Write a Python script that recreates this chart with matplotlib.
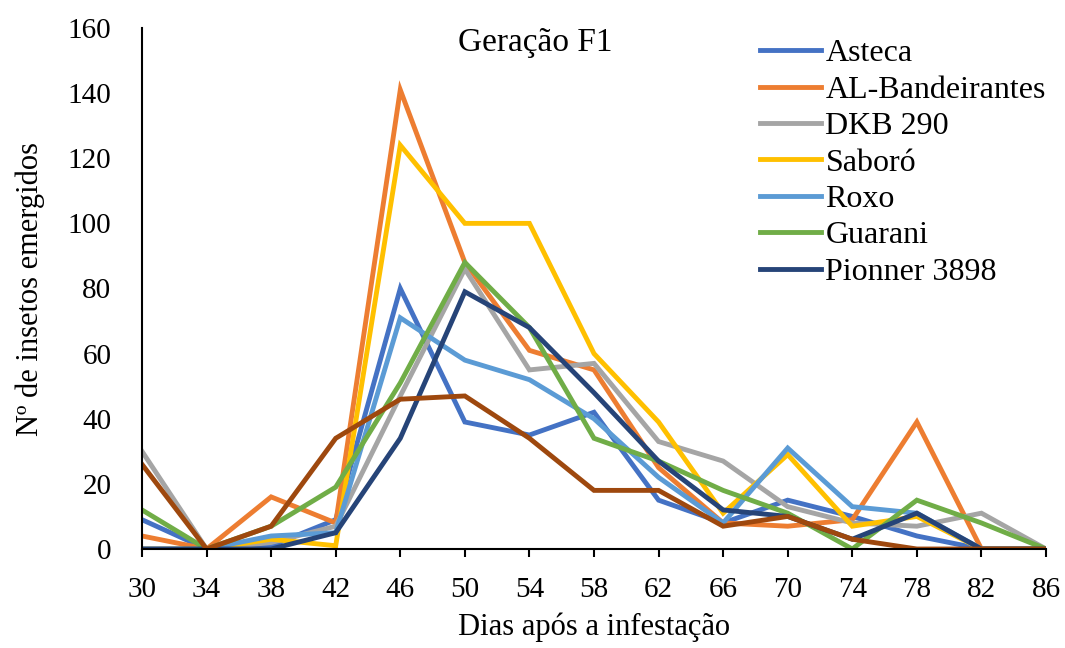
import numpy as np
import matplotlib.pyplot as plt

plt.rcParams['font.family'] = ['Liberation Serif', 'DejaVu Serif']

# days after infestation
dias = [30, 34, 38, 42, 46, 50, 54, 58, 62, 66, 70, 74, 78, 82, 86]

asteca = [9, 0, 1, 9, 80, 39, 35, 42, 15, 8, 15, 10, 4, 0, 0]
al_bandeirantes = [4, 0, 16, 8, 141, 88, 61, 55, 25, 8, 7, 9, 39, 0, 0]
dkb_290 = [30, 0, 2, 7, 47, 86, 55, 57, 33, 27, 13, 8, 7, 11, 0]
saboro = [0, 0, 3, 1, 124, 100, 100, 60, 39, 11, 29, 7, 10, 0, 0]
roxo = [0, 0, 4, 5, 71, 58, 52, 40, 22, 8, 31, 13, 11, 0, 0]
guarani = [12, 0, 7, 19, 51, 88, 68, 34, 27, 18, 11, 0, 15, 8, 0]
pionner = [0, 0, 0, 5, 34, 79, 68, 48, 27, 12, 10, 3, 11, 0, 0]
sem_nome = [26, 0, 7, 34, 46, 47, 34, 18, 18, 7, 10, 3, 0, 0, 0]

series = [
    ("Asteca", asteca, "#4472C4"),
    ("AL-Bandeirantes", al_bandeirantes, "#ED7D31"),
    ("DKB 290", dkb_290, "#A5A5A5"),
    ("Saboró", saboro, "#FFC000"),
    ("Roxo", roxo, "#5B9BD5"),
    ("Guarani", guarani, "#70AD47"),
    ("Pionner 3898", pionner, "#264478"),
]

fig = plt.figure(figsize=(10.65, 6.48), dpi=100)
ax = fig.add_axes([142 / 1065, 1 - 549 / 648, (1046 - 142) / 1065, (549 - 28) / 648])

for nome, vals, cor in series:
    ax.plot(dias, vals, color=cor, lw=3.5, label=nome, solid_joinstyle='miter')
# brown series has no legend entry in the original
ax.plot(dias, sem_nome, color="#9E480E", lw=3.5, solid_joinstyle='miter')

ax.set_xlim(30, 86)
ax.set_ylim(0, 160)
ax.set_xticks(dias)
ax.set_yticks(np.arange(0, 161, 20))
ax.tick_params(axis='x', length=6, width=1.5, pad=14, labelsize=21)
ax.tick_params(axis='y', length=0, pad=22, labelsize=21)
for s in ['top', 'right']:
    ax.spines[s].set_visible(False)
ax.spines['left'].set_linewidth(1.5)
ax.spines['bottom'].set_linewidth(1.5)

ax.set_xlabel("Dias após a infestação", fontsize=22, labelpad=7)
ax.set_ylabel("Nº de insetos emergidos", fontsize=22, labelpad=16)
ax.text(0.435, 1.0, "Geração F1", transform=ax.transAxes, fontsize=24,
        ha='center', va='top')

ax.legend(loc='upper left', bbox_to_anchor=(760 / 1065, 1 - 39 / 648),
          bbox_transform=fig.transFigure, frameon=False, fontsize=23,
          handlelength=1.9, handletextpad=0.15, labelspacing=0.22,
          borderpad=0, borderaxespad=0)

fig.savefig("out.png", dpi=100)
